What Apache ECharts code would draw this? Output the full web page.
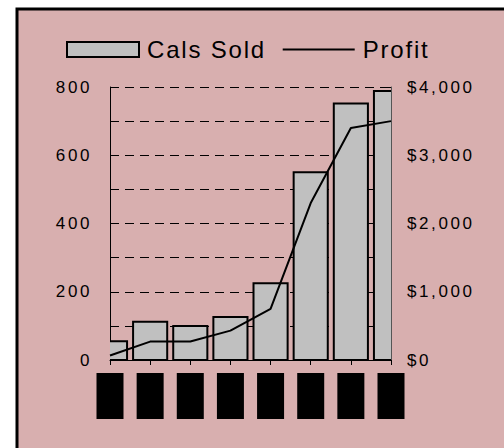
<!DOCTYPE html>
<html>
<head>
<meta charset="utf-8">
<script src="https://cdn.jsdelivr.net/npm/echarts@6/dist/echarts.min.js"></script>
<style>
html,body{margin:0;padding:0;background:#fff;}
#c{width:504px;height:448px;}
#c text[style*="24px"]{letter-spacing:1.8px;}
#c text[style*="17px"]{letter-spacing:2.6px;}
</style>
</head>
<body>
<div id="c"></div>
<script>
var categories = ['1993','1994','1995','1996','1997','1998','1999','2000'];
var calsSold = [55, 112, 100, 126, 225, 550, 752, 788];
var profit = [65, 270, 270, 430, 750, 2300, 3400, 3500];
var leftTicks = [0, 200, 400, 600, 800];
var rightTicks = [0, 1000, 2000, 3000, 4000];

var FONT = '"Liberation Sans", Arial, sans-serif';
var chart = echarts.init(document.getElementById('c'), null, {renderer: 'svg'});
chart.setOption({
  backgroundColor: '#ffffff',
  animation: false,
  graphic: [{
    type: 'rect', z: -10, silent: true,
    shape: {x: 17, y: 9, width: 600, height: 600},
    style: {fill: '#D8AFAF', stroke: '#000', lineWidth: 3}
  }],
  legend: {
    left: 66, top: 37, padding: 0,
    itemWidth: 72, itemHeight: 15, itemGap: 32,
    textStyle: {fontFamily: FONT, fontSize: 24, color: '#000', lineHeight: 25, padding: [0, 0, 0, 3]},
    data: [
      {name: 'Cals Sold', icon: 'rect', itemStyle: {color: '#C0C0C0', borderColor: '#000', borderWidth: 2}},
      {name: 'Profit', itemStyle: {color: 'rgba(0,0,0,0)', borderWidth: 0, opacity: 0}, lineStyle: {color: '#000', width: 2}}
    ]
  },
  grid: {left: 110, right: 113, top: 87, bottom: 88, containLabel: false},
  xAxis: {
    type: 'category', data: categories, boundaryGap: false,
    axisLine: {lineStyle: {color: '#000', width: 1}},
    axisTick: {show: true, length: 5, lineStyle: {color: '#000'}},
    axisLabel: {
      margin: 13, color: '#000', backgroundColor: '#000',
      width: 27, height: 46, fontSize: 10, fontFamily: FONT, interval: 0
    },
    splitLine: {show: false}
  },
  yAxis: [{
    type: 'value', min: 0, max: 800, interval: 100, position: 'left',
    axisLine: {show: true, lineStyle: {color: '#000', width: 1}},
    axisTick: {show: false},
    axisLabel: {
      margin: 18, color: '#000', fontFamily: FONT, fontSize: 17,
      formatter: function (v) { return leftTicks.indexOf(v) >= 0 ? String(v) : ''; }
    },
    splitLine: {show: true, lineStyle: {color: '#000', type: [9, 6], width: 1}}
  }, {
    type: 'value', min: 0, max: 4000, interval: 500, position: 'right',
    axisLine: {show: true, lineStyle: {color: '#555', width: 1}},
    axisTick: {show: true, inside: true, length: 3, lineStyle: {color: '#000'}},
    axisLabel: {
      margin: 16, color: '#000', fontFamily: FONT, fontSize: 17,
      formatter: function (v) {
        return rightTicks.indexOf(v) >= 0 ? '$' + v.toLocaleString('en-US') : '';
      }
    },
    splitLine: {show: false}
  }],
  series: [{
    name: 'Cals Sold', type: 'custom', yAxisIndex: 0, clip: true,
    data: calsSold.map(function (v, i) { return [i, v]; }),
    encode: {x: 0, y: 1},
    itemStyle: {color: '#C0C0C0', borderColor: '#000', borderWidth: 2},
    renderItem: function (params, api) {
      var top = api.coord([api.value(0), api.value(1)]);
      var base = api.coord([api.value(0), 0]);
      var w = api.size([1, 0])[0] * 0.85;
      return {
        type: 'rect',
        shape: {x: top[0] - w / 2, y: top[1], width: w, height: base[1] - top[1]},
        style: {fill: '#C0C0C0', stroke: '#000', lineWidth: 2}
      };
    }
  }, {
    name: 'Profit', type: 'line', data: profit, yAxisIndex: 1, z: 3,
    symbol: 'none', lineStyle: {color: '#000', width: 2}, itemStyle: {color: '#000'}
  }]
});
</script>
</body>
</html>
